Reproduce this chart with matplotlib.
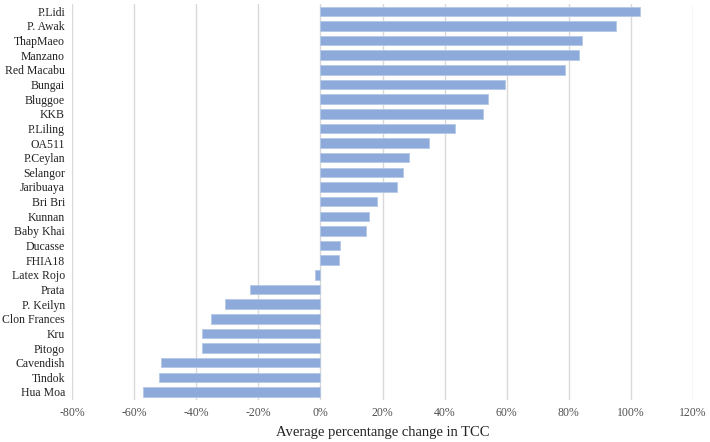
import matplotlib.pyplot as plt
from matplotlib.ticker import FuncFormatter

CULTIVARS = [
    "P.Lidi", "P. Awak", "ThapMaeo", "Manzano", "Red Macabu", "Bungai",
    "Bluggoe", "KKB", "P.Liling", "OA511", "P.Ceylan", "Selangor",
    "Jaribuaya", "Bri Bri", "Kunnan", "Baby Khai", "Ducasse", "FHIA18",
    "Latex Rojo", "Prata", "P. Keilyn", "Clon Frances", "Kru", "Pitogo",
    "Cavendish", "Tindok", "Hua Moa",
]
CHANGE_PCT = [
    102.8, 95.3, 84.1, 83.3, 78.8, 59.5,
    53.9, 52.3, 43.4, 35.1, 28.5, 26.6,
    24.8, 18.1, 15.5, 14.6, 6.4, 6.1,
    -1.9, -22.8, -30.8, -35.2, -38.1, -38.1,
    -51.3, -52.0, -57.0,
]
X_TICKS = [-80, -60, -40, -20, 0, 20, 40, 60, 80, 100, 120]

plt.rcParams["font.family"] = ["Liberation Serif", "DejaVu Serif"]

fig = plt.figure(figsize=(7.10, 4.42), dpi=100)
ax = fig.add_axes([72 / 710, 1 - 400 / 442, (693 - 72) / 710, 396 / 442])

ypos = range(len(CULTIVARS))
ax.barh(ypos, CHANGE_PCT, height=0.65, color="#8eaadb",
        edgecolor="#b4c7e7", linewidth=0.6, zorder=3)

ax.set_xlim(-80, 120)
ax.set_ylim(len(CULTIVARS) - 0.45, -0.5)
ax.set_xticks(X_TICKS)
ax.xaxis.set_major_formatter(FuncFormatter(lambda v, _: f"{v:.0f}%"))
ax.set_yticks(list(ypos))
ax.set_yticklabels(CULTIVARS)
ax.tick_params(axis="both", length=0, labelsize=8.5, colors="#505050")
ax.tick_params(axis="x", pad=5)
ax.tick_params(axis="y", pad=5)
for lbl in ax.get_yticklabels():
    lbl.set_color("#222222")

ax.grid(axis="x", color="#d9d9d9", linewidth=1.0, zorder=0)
for s in ax.spines.values():
    s.set_visible(False)

ax.set_xlabel("Average percentange change in TCC", fontsize=10.5,
              color="#222222", labelpad=5)

fig.savefig("out.png", dpi=100)
